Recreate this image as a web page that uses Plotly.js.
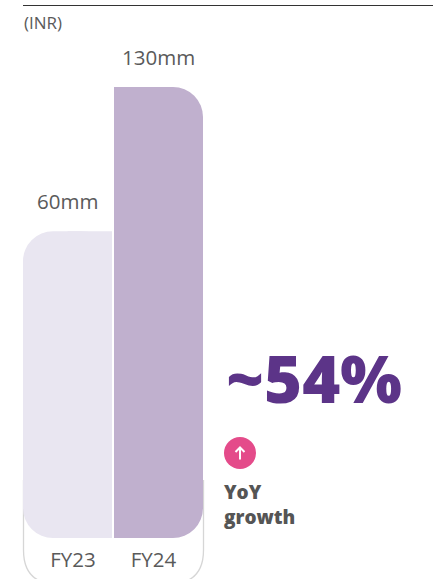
<!DOCTYPE html>
<html>
<head>
<meta charset="utf-8">
<script src="https://cdn.plot.ly/plotly-3.0.1.min.js"></script>
<style>html,body{margin:0;padding:0;background:#fff}#chart{width:443px;height:579px}</style>
</head>
<body>
<div id="chart"></div>
<script>
// Revenue by fiscal year, INR millions
const categories = ['FY23', 'FY24'];
const values = [60, 130];
const unitSuffix = 'mm';
const growthLabel = '~54%';
const growthCaption = 'YoY<br>growth';
const currencyNote = '(INR)';

const barColors = ['#e9e6f1', '#c0b0ce'];
const textColor = '#5a5a5a';
const accentPurple = '#5c3488';
const accentPink = '#e44b8a';
const fontFamily = '"Open Sans", "Noto Sans", sans-serif';

// Canvas geometry
const W = 443, H = 579, bottomMargin = 30, plotH = H - bottomMargin;
const px = x => x / W;
const py = y => (plotH - y) / plotH;

// Decorative foot below the zero line, so the bars sit on the rounded card
const footDepth = 88.77;
const feet = values.map(() => -footDepth);
const barWidth = 89 / 91;
const halfWidth = barWidth / 2;

const roundedTops = {
  type: 'bar', x: [0, 1], y: values, width: barWidth,
  marker: {color: barColors, cornerradius: 30, line: {width: 0}},
  hoverinfo: 'skip', showlegend: false
};
const roundedFeet = {
  type: 'bar', x: [0, 1], y: feet, width: barWidth,
  marker: {color: barColors, cornerradius: 30, line: {width: 0}},
  hoverinfo: 'skip', showlegend: false
};
// Inner halves stay square: the two bars only round their outer corners
const squareInner = {
  type: 'bar', x: [0, 1], y: values.map(v => v + footDepth), base: feet,
  width: halfWidth, offset: [0, -halfWidth],
  marker: {color: barColors, line: {width: 0}},
  hoverinfo: 'skip', showlegend: false
};

const layout = {
  width: W, height: H,
  margin: {l: 0, r: 0, t: 0, b: bottomMargin, pad: 0},
  paper_bgcolor: '#fff', plot_bgcolor: 'rgba(0,0,0,0)',
  barmode: 'overlay', showlegend: false,
  font: {family: fontFamily, color: textColor},
  xaxis: {
    range: [-67.5 / 91, (W - 67.5) / 91], type: 'linear',
    tickmode: 'array', tickvals: [0.06, 0.945], ticktext: categories,
    tickfont: {family: fontFamily, size: 20.5, color: textColor},
    ticklabelstandoff: -4,
    ticks: '', ticklen: 0, showgrid: false, zeroline: false, showline: false, fixedrange: true
  },
  yaxis: {
    range: [-94.1, 172.2], showticklabels: false, ticks: '',
    showgrid: false, zeroline: false, showline: false, fixedrange: true
  },
  shapes: [
    // Rule across the top
    {type: 'line', xref: 'paper', yref: 'paper', x0: px(23), x1: px(433), y0: py(5.5), y1: py(5.5),
      line: {color: '#333333', width: 1}},
    // Card outline behind the bars
    {type: 'path', xref: 'paper', yref: 'paper', layer: 'below',
      path: `M ${px(23.5)} ${py(480)} L ${px(23.5)} ${py(550)} Q ${px(23.5)} ${py(584)} ${px(57)} ${py(584)}` +
            ` L ${px(169)} ${py(584)} Q ${px(203.5)} ${py(584)} ${px(203.5)} ${py(550)} L ${px(203.5)} ${py(480)}`,
      line: {color: '#d6d6d6', width: 1.3}},
    // Up-arrow badge
    {type: 'circle', xref: 'paper', yref: 'paper', x0: px(224), x1: px(256), y0: py(437), y1: py(469),
      fillcolor: accentPink, line: {width: 0}},
    {type: 'path', xref: 'paper', yref: 'paper',
      path: `M ${px(240)} ${py(459.5)} L ${px(240)} ${py(448)} M ${px(235.5)} ${py(452)} L ${px(240)} ${py(447.5)} L ${px(244.5)} ${py(452)}`,
      line: {color: '#ffffff', width: 2}}
  ],
  annotations: [
    {xref: 'paper', yref: 'paper', x: px(22), y: py(22.5), xanchor: 'left', yanchor: 'middle', showarrow: false,
      text: currencyNote, font: {size: 17, color: textColor, family: fontFamily}},
    ...values.map((v, i) => ({
      xref: 'x', yref: 'y', x: i, y: v, xanchor: 'center', yanchor: 'bottom', yshift: 14, showarrow: false,
      text: v + unitSuffix, font: {size: 20.5, color: textColor, family: fontFamily}
    })),
    {xref: 'paper', yref: 'paper', x: px(224), y: py(378), xanchor: 'left', yanchor: 'middle', showarrow: false,
      text: growthLabel, font: {size: 65, color: accentPurple, family: fontFamily, weight: 800}},
    {xref: 'paper', yref: 'paper', x: px(222), y: py(504), xanchor: 'left', yanchor: 'middle', align: 'left', showarrow: false,
      text: growthCaption, font: {size: 19, color: '#555555', family: fontFamily, weight: 800}}
  ]
};

Plotly.newPlot('chart', [roundedTops, roundedFeet, squareInner], layout, {displayModeBar: false, staticPlot: true});
</script>
</body>
</html>
